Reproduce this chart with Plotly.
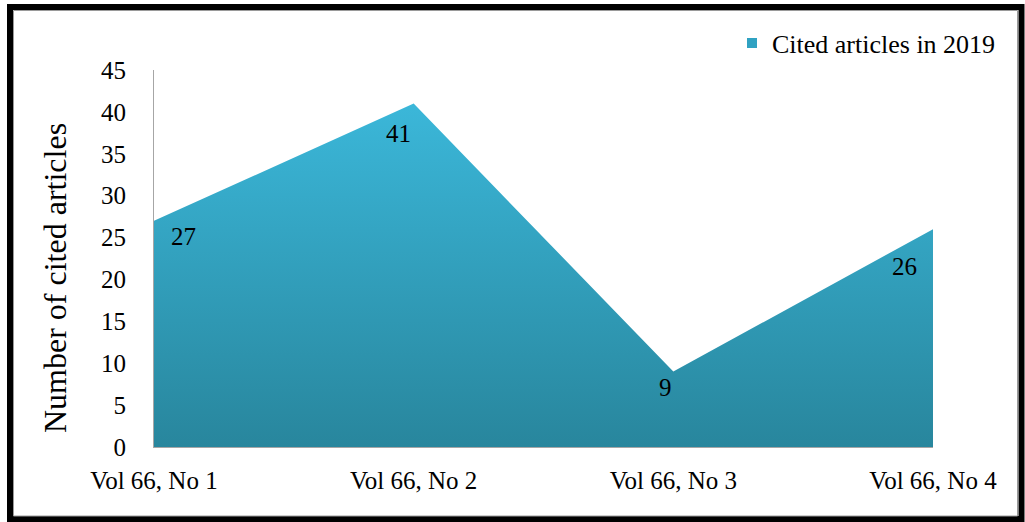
import plotly.graph_objects as go

# Issues of volume 66 and the number of their articles cited in 2019
issues = ["Vol 66, No 1", "Vol 66, No 2", "Vol 66, No 3", "Vol 66, No 4"]
cited = [27, 41, 9, 26]
series_name = "Cited articles in 2019"
y_title = "Number of cited articles"

# label offsets (pixels) for each value label
label_dx = [29, -15, -8, -29]
label_dy = [-16, -30, -16, -37]

FONT = "Liberation Serif, Times New Roman, serif"
W, H = 1025, 522
ML, MR, MT, MB = 154, 92, 70, 75
PW, PH = W - ML - MR, H - MT - MB


def px_to_paper_x(px):
    return (px - ML) / PW


def px_to_paper_y(py):
    return (H - MB - py) / PH


fig = go.Figure()

fig.add_trace(go.Scatter(
    x=issues, y=cited,
    mode="none",
    fill="tozeroy",
    fillgradient=dict(
        type="vertical",
        colorscale=[[0, "#28869d"], [1, "#3bb7d9"]],
    ),
    showlegend=False,
    hoverinfo="x+y",
))

# legend entry with a square swatch
fig.add_trace(go.Scatter(
    x=[None], y=[None],
    mode="markers",
    marker=dict(symbol="square", size=10, color="#30a2c2"),
    name=series_name,
    showlegend=True,
))

for xi, yi, dx, dy in zip(issues, cited, label_dx, label_dy):
    fig.add_annotation(
        x=xi, y=yi, text=str(yi), showarrow=False,
        xshift=dx, yshift=dy,
        font=dict(family=FONT, size=25, color="#000000"),
    )

# vertical axis title
fig.add_annotation(
    xref="paper", yref="paper",
    x=px_to_paper_x(55), y=px_to_paper_y(278),
    text=y_title, textangle=-90, showarrow=False,
    xanchor="center", yanchor="middle",
    font=dict(family=FONT, size=32, color="#000000"),
)

# chart frame
fig.add_shape(
    type="rect", xref="paper", yref="paper",
    x0=px_to_paper_x(10), x1=px_to_paper_x(1021.5),
    y0=px_to_paper_y(519), y1=px_to_paper_y(7),
    line=dict(color="#000000", width=6),
    fillcolor="rgba(0,0,0,0)",
    layer="above",
)
fig.add_shape(
    type="rect", xref="paper", yref="paper",
    x0=px_to_paper_x(13.5), x1=px_to_paper_x(1017.5),
    y0=px_to_paper_y(516), y1=px_to_paper_y(10.5),
    line=dict(color="#9a9a9a", width=1),
    fillcolor="rgba(0,0,0,0)",
    layer="above",
)

fig.update_layout(
    width=W, height=H,
    margin=dict(l=ML, r=MR, t=MT, b=MB),
    paper_bgcolor="#ffffff",
    plot_bgcolor="#ffffff",
    font=dict(family=FONT, size=25, color="#000000"),
    legend=dict(
        x=px_to_paper_x(732), y=px_to_paper_y(43),
        xanchor="left", yanchor="middle",
        font=dict(family=FONT, size=26, color="#000000"),
        bgcolor="rgba(0,0,0,0)",
        itemwidth=30,
    ),
    xaxis=dict(
        type="category",
        range=[0, 3],
        showgrid=False,
        zeroline=False,
        showline=True, linecolor="#a6a6a6", linewidth=1,
        ticks="",
        ticklabelstandoff=11,
        tickfont=dict(family=FONT, size=25, color="#000000"),
        fixedrange=True,
    ),
    yaxis=dict(
        range=[0, 45],
        dtick=5,
        showgrid=False,
        zeroline=False,
        showline=True, linecolor="#a6a6a6", linewidth=1,
        ticks="",
        ticklabelstandoff=22,
        tickfont=dict(family=FONT, size=25, color="#000000"),
        fixedrange=True,
    ),
)

fig.write_html("out.html")
